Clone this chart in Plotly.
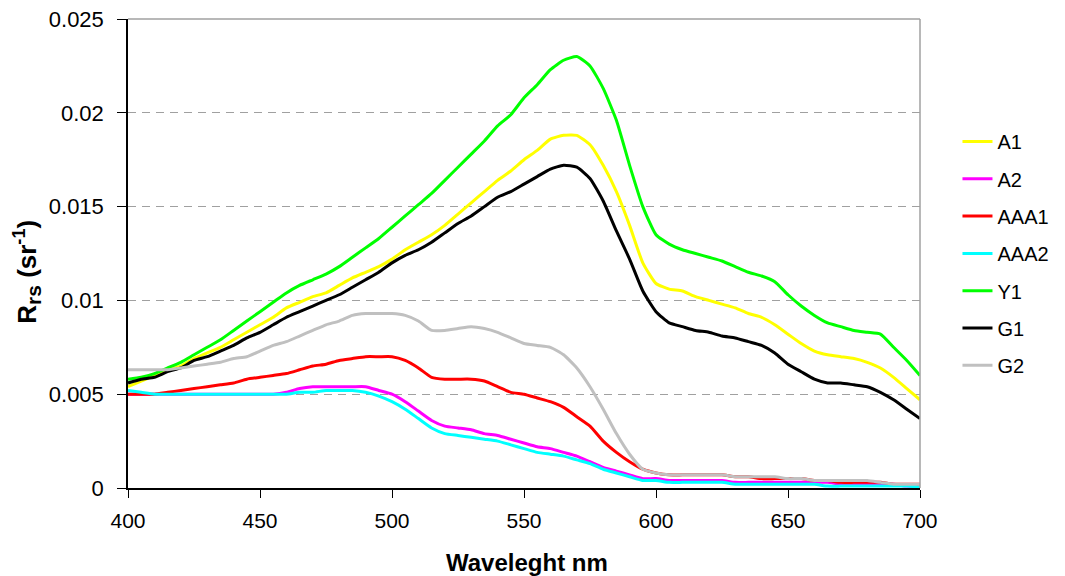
import plotly.graph_objects as go

wavelength = list(range(400, 701, 5))

a1 = [0.0054, 0.0057, 0.0060, 0.0063, 0.0065, 0.0069, 0.0072, 0.0075, 0.0079, 0.0083,
      0.0087, 0.0091, 0.0096, 0.0099, 0.0102, 0.0104, 0.0108, 0.0112, 0.0115, 0.0118,
      0.0122, 0.0127, 0.0131, 0.0135, 0.0140, 0.0146, 0.0152, 0.0158, 0.0164, 0.0169,
      0.0175, 0.0180, 0.0186, 0.0188, 0.0188, 0.0183, 0.0172, 0.0158, 0.0140, 0.0120,
      0.0109, 0.0106, 0.0105, 0.0102, 0.0100, 0.0098, 0.0096, 0.0093, 0.0091, 0.0087,
      0.0082, 0.0077, 0.0073, 0.0071, 0.0070, 0.0069, 0.0067, 0.0064, 0.0059, 0.0053,
      0.0047]

a2 = [0.0050, 0.0050, 0.0050, 0.0050, 0.0050, 0.0050, 0.0050, 0.0050, 0.0050, 0.0050,
      0.0050, 0.0050, 0.0051, 0.0053, 0.0054, 0.0054, 0.0054, 0.0054, 0.0054, 0.0052,
      0.0050, 0.0046, 0.0041, 0.0036, 0.0033, 0.0032, 0.0031, 0.0029, 0.0028, 0.0026,
      0.0024, 0.0022, 0.0021, 0.0019, 0.0017, 0.0014, 0.0011, 0.0009, 0.0007, 0.0005,
      0.0005, 0.0004, 0.0004, 0.0004, 0.0004, 0.0004, 0.0003, 0.0003, 0.0003, 0.0003,
      0.0003, 0.0003, 0.0003, 0.0003, 0.0002, 0.0002, 0.0002, 0.0002, 0.0002, 0.0001,
      0.0001]

aaa1 = [0.0050, 0.0050, 0.0050, 0.0051, 0.0052, 0.0053, 0.0054, 0.0055, 0.0056, 0.0058,
        0.0059, 0.0060, 0.0061, 0.0063, 0.0065, 0.0066, 0.0068, 0.0069, 0.0070, 0.0070,
        0.0070, 0.0068, 0.0064, 0.0059, 0.0058, 0.0058, 0.0058, 0.0057, 0.0054, 0.0051,
        0.0050, 0.0048, 0.0046, 0.0043, 0.0038, 0.0033, 0.0025, 0.0019, 0.0014, 0.0010,
        0.0008, 0.0007, 0.0007, 0.0007, 0.0007, 0.0007, 0.0006, 0.0006, 0.0005, 0.0005,
        0.0005, 0.0005, 0.0004, 0.0004, 0.0003, 0.0003, 0.0003, 0.0003, 0.0002, 0.0002,
        0.0002]

aaa2 = [0.0052, 0.0051, 0.0050, 0.0050, 0.0050, 0.0050, 0.0050, 0.0050, 0.0050, 0.0050,
        0.0050, 0.0050, 0.0050, 0.0051, 0.0051, 0.0052, 0.0052, 0.0052, 0.0051, 0.0049,
        0.0046, 0.0042, 0.0037, 0.0032, 0.0029, 0.0028, 0.0027, 0.0026, 0.0025, 0.0023,
        0.0021, 0.0019, 0.0018, 0.0017, 0.0015, 0.0013, 0.0010, 0.0008, 0.0006, 0.0004,
        0.0004, 0.0003, 0.0003, 0.0003, 0.0003, 0.0003, 0.0002, 0.0002, 0.0002, 0.0002,
        0.0002, 0.0002, 0.0002, 0.0001, 0.0001, 0.0001, 0.0001, 0.0001, 0.0001, 0.0001,
        0.00005]

y1 = [0.0058, 0.0059, 0.0061, 0.0064, 0.0067, 0.0071, 0.0075, 0.0079, 0.0084, 0.0089,
      0.0094, 0.0099, 0.0104, 0.0108, 0.0111, 0.0114, 0.0118, 0.0123, 0.0128, 0.0133,
      0.0139, 0.0145, 0.0151, 0.0157, 0.0164, 0.0171, 0.0178, 0.0185, 0.0193, 0.0199,
      0.0208, 0.0215, 0.0223, 0.0228, 0.0230, 0.0225, 0.0213, 0.0196, 0.0172, 0.0150,
      0.0135, 0.0130, 0.0127, 0.0125, 0.0123, 0.0121, 0.0118, 0.0115, 0.0113, 0.0110,
      0.0103, 0.0097, 0.0092, 0.0088, 0.0086, 0.0084, 0.0083, 0.0082, 0.0075, 0.0068,
      0.0060]

g1 = [0.0056, 0.0058, 0.0059, 0.0062, 0.0064, 0.0068, 0.0070, 0.0073, 0.0076, 0.0080,
      0.0083, 0.0087, 0.0091, 0.0094, 0.0097, 0.0100, 0.0103, 0.0107, 0.0111, 0.0115,
      0.0120, 0.0124, 0.0127, 0.0131, 0.0136, 0.0141, 0.0145, 0.0150, 0.0155, 0.0158,
      0.0162, 0.0166, 0.0170, 0.0172, 0.0171, 0.0165, 0.0153, 0.0137, 0.0122, 0.0105,
      0.0094, 0.0088, 0.0086, 0.0084, 0.0083, 0.0081, 0.0080, 0.0078, 0.0076, 0.0072,
      0.0066, 0.0062, 0.0058, 0.0056, 0.0056, 0.0055, 0.0054, 0.0051, 0.0047, 0.0042,
      0.0037]

g2 = [0.0063, 0.0063, 0.0063, 0.0063, 0.0064, 0.0065, 0.0066, 0.0067, 0.0069, 0.0070,
      0.0073, 0.0076, 0.0078, 0.0081, 0.0084, 0.0087, 0.0089, 0.0092, 0.0093, 0.0093,
      0.0093, 0.0092, 0.0089, 0.0084, 0.0084, 0.0085, 0.0086, 0.0085, 0.0083, 0.0080,
      0.0077, 0.0076, 0.0075, 0.0071, 0.0064, 0.0054, 0.0042, 0.0029, 0.0018, 0.0010,
      0.0008, 0.0007, 0.0007, 0.0007, 0.0007, 0.0007, 0.0006, 0.0006, 0.0006, 0.0006,
      0.0005, 0.0005, 0.0004, 0.0004, 0.0004, 0.0004, 0.0004, 0.0003, 0.0002, 0.0002,
      0.0002]

series_names = ["A1", "A2", "AAA1", "AAA2", "Y1", "G1", "G2"]
series_values = [a1, a2, aaa1, aaa2, y1, g1, g2]
series_colors = ["#FFFF00", "#FF00FF", "#FF0000", "#00FFFF", "#00FF00", "#000000", "#C0C0C0"]

x_ticks = [400, 450, 500, 550, 600, 650, 700]
y_ticks = [0, 0.005, 0.01, 0.015, 0.02, 0.025]
y_tick_labels = ["0", "0.005", "0.01", "0.015", "0.02", "0.025"]

FONT = "Liberation Sans, Arial, sans-serif"

fig = go.Figure()
for name, vals, col in zip(series_names, series_values, series_colors):
    fig.add_trace(go.Scatter(
        x=wavelength, y=vals, mode="lines", name=name, legendgroup=name,
        line=dict(color=col, width=3, shape="spline", smoothing=0.5),
    ))

fig.update_layout(
    width=1065, height=576,
    margin=dict(l=128, r=144, t=19, b=88),
    paper_bgcolor="white", plot_bgcolor="white",
    font=dict(family=FONT, size=21, color="black"),
    showlegend=True,
    legend=dict(
        x=1.046, xanchor="left", y=0.5, yanchor="middle",
        font=dict(family=FONT, size=20, color="black"),
        traceorder="grouped", tracegroupgap=8.3,
        bgcolor="rgba(0,0,0,0)",
    ),
    xaxis=dict(
        range=[400, 700], tickvals=x_ticks, ticks="outside", ticklen=8,
        tickcolor="black", showline=True, linecolor="black", linewidth=1.5,
        showgrid=False, zeroline=False, automargin=False,
        tickfont=dict(family=FONT, size=21), ticklabelstandoff=5,
    ),
    yaxis=dict(
        range=[0, 0.025], tickvals=y_ticks, ticktext=y_tick_labels, ticks="outside", ticklen=9,
        tickcolor="black", showline=True, linecolor="black", linewidth=1.5,
        showgrid=True, gridcolor="#A0A0A0", griddash="8px,6px", gridwidth=1,
        zeroline=False, automargin=False,
        tickfont=dict(family=FONT, size=22), ticklabelstandoff=9,
    ),
)

fig.add_annotation(
    text="<b>Waveleght nm</b>", xref="paper", yref="paper",
    x=0.504, y=-0.158, xanchor="center", yanchor="middle", showarrow=False,
    font=dict(family=FONT, size=24, color="black"),
)
fig.add_annotation(
    text="<b>R<sub><span style='font-size:21px'>rs</span></sub> (sr<sup>-1</sup>)</b>",
    xref="paper", yref="paper", textangle=-90,
    x=-0.127, y=0.462, xanchor="center", yanchor="middle", showarrow=False,
    font=dict(family=FONT, size=26, color="black"),
)

fig.add_shape(type="line", xref="paper", yref="paper", x0=0, x1=1, y0=1, y1=1,
              line=dict(color="#A0A0A0", width=1.5))
fig.add_shape(type="line", xref="paper", yref="paper", x0=1, x1=1, y0=0, y1=1,
              line=dict(color="#A0A0A0", width=1.5))

fig.write_html("out.html", config={"displayModeBar": False},
               post_script="document.body.style.margin='0';")
